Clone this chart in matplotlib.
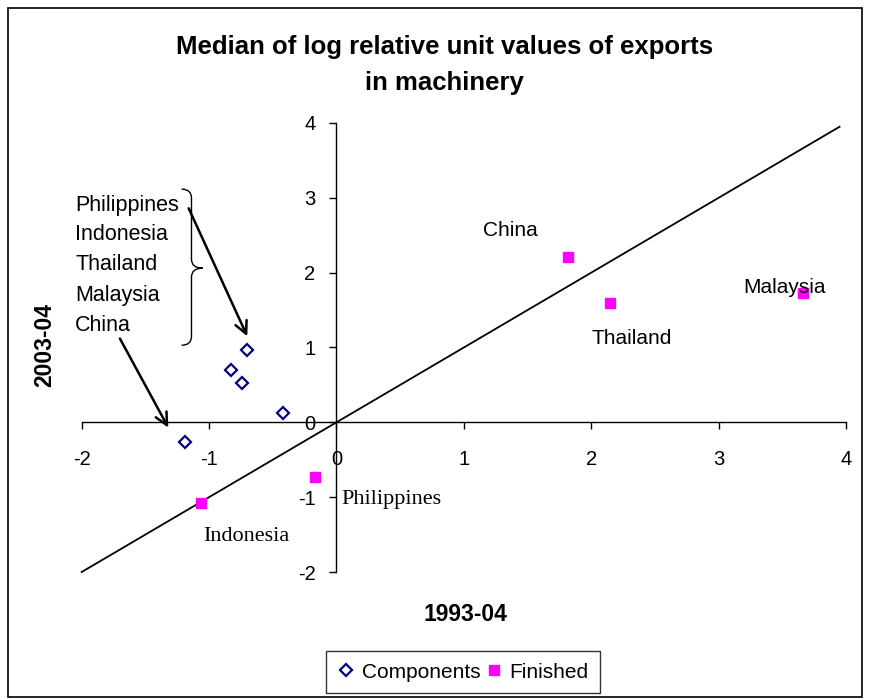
import matplotlib
matplotlib.use("Agg")
import matplotlib.pyplot as plt
from matplotlib.path import Path
from matplotlib.patches import PathPatch, Rectangle
from matplotlib.lines import Line2D

plt.rcParams["axes.unicode_minus"] = False

# Data
countries = ["Philippines", "Indonesia", "Thailand", "Malaysia", "China"]
comp_x = [-0.70, -0.83, -0.74, -0.42, -1.19]
comp_y = [0.96, 0.70, 0.52, 0.12, -0.26]
fin_names = ["China", "Thailand", "Malaysia", "Indonesia", "Philippines"]
fin_x = [1.82, 2.15, 3.66, -1.06, -0.17]
fin_y = [2.21, 1.60, 1.73, -1.08, -0.73]
diag = [-2.0, 3.95]
ticks = [-2, -1, 0, 1, 2, 3, 4]

sans = "Liberation Sans"
serif = "Liberation Serif"

fig = plt.figure(figsize=(8.69, 6.98), dpi=100)
ax = fig.add_axes([0.094, 0.1805, 0.8795, 0.6433])
ax.set_xlim(-2, 4)
ax.set_ylim(-2, 4)

# 45 degree line
ax.plot(diag, diag, color="black", lw=1.3, clip_on=False, zorder=2)
ax.plot(comp_x, comp_y, ls="none", marker="D", ms=6.2, mfc="white",
        mec="#000080", mew=1.6, clip_on=False, zorder=3)
ax.plot(fin_x, fin_y, ls="none", marker="s", ms=7.8, mfc="#FF00FF",
        mec="#FF00FF", clip_on=False, zorder=3)

# axes crossing at origin
for s in ["top", "right"]:
    ax.spines[s].set_visible(False)
ax.spines["left"].set_position(("data", 0))
ax.spines["bottom"].set_position(("data", 0))
ax.spines["left"].set_linewidth(1.0)
ax.spines["bottom"].set_linewidth(1.0)
ax.set_xticks(ticks)
ax.set_yticks(ticks)
ax.tick_params(axis="x", direction="out", length=5, width=1, pad=15, labelsize=14.5)
ax.tick_params(axis="y", direction="out", length=5, width=1, pad=10, labelsize=14.5)
for lab in ax.get_xticklabels() + ax.get_yticklabels():
    lab.set_fontfamily(sans)
ax.patch.set_visible(False)

# point labels
ax.text(1.366, 2.56, "China", family=sans, fontsize=15, ha="center", va="center")
ax.text(2.315, 1.12, "Thailand", family=sans, fontsize=15, ha="center", va="center")
ax.text(3.52, 1.80, "Malaysia", family=sans, fontsize=15, ha="center", va="center")
ax.text(-0.71, -1.53, "Indonesia", family=serif, fontsize=16, ha="center", va="center")
ax.text(0.43, -1.03, "Philippines", family=serif, fontsize=16, ha="center", va="center")

# list of countries for the components
list_y = [2.90, 2.51, 2.11, 1.70, 1.29]
for name, yy in zip(countries, list_y):
    ax.text(-2.05, yy, name, family=sans, fontsize=15.5, ha="left", va="center")

# curly brace
x0, x1, xt = -1.216, -1.138, -1.05
yt, ym, yb = 3.116, 2.06, 1.03
verts = [(x0, yt), (x1, yt), (x1, yt - 0.12),
         (x1, ym + 0.12),
         (x1, ym), (xt, ym),
         (x1, ym), (x1, ym - 0.12),
         (x1, yb + 0.12),
         (x1, yb), (x0, yb)]
codes = [Path.MOVETO, Path.CURVE3, Path.CURVE3,
         Path.LINETO,
         Path.CURVE3, Path.CURVE3,
         Path.CURVE3, Path.CURVE3,
         Path.LINETO,
         Path.CURVE3, Path.CURVE3]
ax.add_patch(PathPatch(Path(verts, codes), fc="none", ec="black", lw=1.0, clip_on=False))

# arrows
ax.annotate("", xy=(-0.70, 1.15), xytext=(-1.16, 2.86),
            arrowprops=dict(arrowstyle="->", lw=1.8, color="black",
                            mutation_scale=22, shrinkA=0, shrinkB=0),
            annotation_clip=False)
ax.annotate("", xy=(-1.32, -0.07), xytext=(-1.70, 1.12),
            arrowprops=dict(arrowstyle="->", lw=1.8, color="black",
                            mutation_scale=22, shrinkA=0, shrinkB=0),
            annotation_clip=False)

# titles
fig.text(0.512, 0.932, "Median of log relative unit values of exports",
         family=sans, fontweight="bold", fontsize=18.5, ha="center", va="center")
fig.text(0.512, 0.881, "in machinery",
         family=sans, fontweight="bold", fontsize=18.5, ha="center", va="center")
fig.text(0.536, 0.120, "1993-04", family=sans, fontweight="bold", fontsize=16.5,
         ha="center", va="center")
fig.text(0.051, 0.506, "2003-04", family=sans, fontweight="bold", fontsize=16.5,
         ha="center", va="center", rotation=90)

# legend
handles = [Line2D([], [], ls="none", marker="D", ms=6.2, mfc="white", mec="#000080", mew=1.6),
           Line2D([], [], ls="none", marker="s", ms=7.8, mfc="#FF00FF", mec="#FF00FF")]
leg = fig.legend(handles, ["Components", "Finished"], loc="lower center",
                 bbox_to_anchor=(0.533, 0.007), ncol=2, frameon=True, fancybox=False,
                 edgecolor="black", handlelength=0.8, handletextpad=0.35,
                 columnspacing=0.25, borderpad=0.55, borderaxespad=0,
                 prop={"family": sans, "size": 15})
leg.get_frame().set_linewidth(1.0)

# outer border
fig.patches.append(Rectangle((8 / 869, 1 / 698), 854 / 869, 689 / 698,
                             transform=fig.transFigure, fill=False,
                             ec="black", lw=1.2))

fig.savefig("out.png", dpi=100)
